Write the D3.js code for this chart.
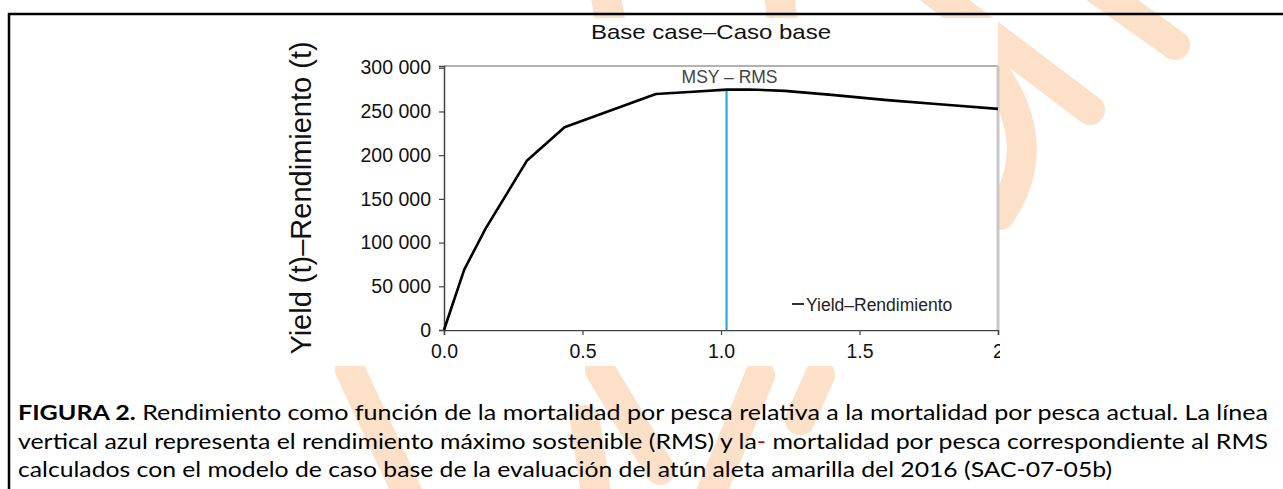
<!DOCTYPE html>
<html><head><meta charset="utf-8">
<script src="https://cdn.jsdelivr.net/npm/d3@7"></script>
<style>html,body{margin:0;padding:0;background:#fff;overflow:hidden}svg{display:block}</style>
</head><body>
<script>
// ---- data ----
const fMult = [0, 0.073, 0.15, 0.3, 0.435, 0.765, 0.9, 1.02, 1.1, 1.23, 1.4, 1.6, 1.8, 2.0];
const yieldT = [0, 69000, 116000, 194000, 232000, 270000, 272500, 275000, 275200, 273500, 269000, 263000, 258000, 253000];
const msyF = 1.02;
const msyYield = 275000;
const yTicks = [0, 50000, 100000, 150000, 200000, 250000, 300000];
const xTicks = [0, 0.5, 1.0, 1.5, 2];
const xTickLabels = ["0.0", "0.5", "1.0", "1.5", "2"];
const title = "Base case\u2013Caso base";
const yTitle = "Yield (t)\u2013Rendimiento (t)";
const msyLabel = "MSY \u2013 RMS";
const legendLabel = "Yield\u2013Rendimiento";
const captionLines = [
  [["FIGURA 2.", true], [" Rendimiento como función de la mortalidad por pesca relativa a la mortalidad por pesca actual. La línea", false]],
  [["vertical azul representa el rendimiento máximo sostenible (RMS) y la", false], ["-", false, "#c00000"], [" mortalidad por pesca correspondiente al RMS", false]],
  [["calculados con el modelo de caso base de la evaluación del atún aleta amarilla del 2016 (SAC-07-05b)", false]]
];

const W = 1283, H = 489;
const svg = d3.select("body").append("svg").attr("width", W).attr("height", H);

// watermark (decorative, behind everything)
const wm = svg.append("g").attr("stroke", "#fce0c8").attr("fill", "none")
  .attr("stroke-linecap", "round").attr("stroke-width", 30);
[
  "M603,-20 L610,20",
  "M778,-20 L782,20",
  "M905,-30 L1090,110",
  "M1070,-30 L1175,45",
  "M985,60 Q1050,140 1000,215",
  "M350,370 L420,520",
  "M600,370 L660,470",
  "M760,375 L700,520",
  "M820,375 L800,420",
  "M585,420 L600,520"
].forEach(d => wm.append("path").attr("d", d));

// page border
svg.append("line").attr("x1", 8).attr("x2", W).attr("y1", 14).attr("y2", 14).attr("stroke", "#000").attr("stroke-width", 2.5);
svg.append("line").attr("x1", 9).attr("x2", 9).attr("y1", 13).attr("y2", H).attr("stroke", "#000").attr("stroke-width", 2.5);

// chart image background (white)
svg.append("rect").attr("x", 282).attr("y", 18).attr("width", 716).attr("height", 348).attr("fill", "#fff");

const x = d3.scaleLinear().domain([0, 2]).range([444, 998]);
const y = d3.scaleLinear().domain([0, 302000]).range([330, 66]);

const fontA = "'Liberation Sans', Arial, sans-serif";

// title
svg.append("text").attr("x", 711).attr("y", 39).attr("text-anchor", "middle")
  .attr("font-family", fontA).attr("font-size", 21).attr("fill", "#111")
  .attr("textLength", 240).attr("lengthAdjust", "spacingAndGlyphs").text(title);

// plot frame: top and right
svg.append("line").attr("x1", x(0)).attr("x2", x(2)).attr("y1", y.range()[1]).attr("y2", y.range()[1]).attr("stroke", "#666").attr("stroke-width", 1.2);
svg.append("line").attr("x1", x(2)).attr("x2", x(2)).attr("y1", y.range()[1]).attr("y2", y(0)).attr("stroke", "#c8c8c8").attr("stroke-width", 3);

// axes
const yAxis = svg.append("g").attr("transform", `translate(${x(0)},0)`)
  .call(d3.axisLeft(y).tickValues(yTicks).tickSize(5).tickPadding(8).tickFormat(d => d3.format(",")(d).replace(/,/g, " ")));
const xAxis = svg.append("g").attr("transform", `translate(0,${y(0)})`)
  .call(d3.axisBottom(x).tickValues(xTicks).tickSize(5).tickPadding(9).tickFormat((d, i) => xTickLabels[i]));
[yAxis, xAxis].forEach(g => {
  g.select(".domain").attr("stroke", "#444").attr("stroke-width", 1.5);
  g.selectAll(".tick line").attr("stroke", "#444").attr("stroke-width", 1.2);
  g.selectAll("text").attr("font-family", fontA).attr("font-size", 19.5).attr("fill", "#111");
});
// clip the last x label at chart image edge
svg.append("clipPath").attr("id", "imgclip").append("rect").attr("x", 0).attr("y", 0).attr("width", 1000).attr("height", H);
xAxis.attr("clip-path", "url(#imgclip)");

// y title
svg.append("text").attr("transform", "translate(311,198) rotate(-90)").attr("text-anchor", "middle")
  .attr("font-family", fontA).attr("font-size", 29).attr("fill", "#111").text(yTitle);

// MSY line
svg.append("line").attr("x1", x(msyF)).attr("x2", x(msyF)).attr("y1", y(0)).attr("y2", y(msyYield))
  .attr("stroke", "#27aae1").attr("stroke-width", 2.2);
svg.append("text").attr("x", x(msyF) + 3).attr("y", 83).attr("text-anchor", "middle")
  .attr("font-family", fontA).attr("font-size", 17.5).attr("fill", "#444").text(msyLabel);

// yield curve
const line = d3.line().x((d, i) => x(fMult[i])).y(d => y(d));
svg.append("path").datum(yieldT).attr("d", line).attr("fill", "none")
  .attr("stroke", "#000").attr("stroke-width", 2.6).attr("stroke-linejoin", "round");

// legend
svg.append("line").attr("x1", 792).attr("x2", 804).attr("y1", 304).attr("y2", 304).attr("stroke", "#333").attr("stroke-width", 2);
svg.append("text").attr("x", 806).attr("y", 311).attr("font-family", fontA).attr("font-size", 17.5).attr("fill", "#222").text(legendLabel);

// caption
const capFont = "Lato, 'Noto Sans', sans-serif";
const capBase = [420, 449, 477];
const capLen = [1250, 1250, 1094];
captionLines.forEach((parts, li) => {
  const t = svg.append("text").attr("x", 18).attr("y", capBase[li])
    .attr("font-family", capFont).attr("font-size", 21).attr("fill", "#000")
    .attr("textLength", capLen[li]).attr("lengthAdjust", "spacingAndGlyphs");
  parts.forEach(p => {
    t.append("tspan").attr("font-weight", p[1] ? "bold" : "normal").attr("fill", p[2] || "#000").text(p[0]);
  });
});
</script>
</body></html>
